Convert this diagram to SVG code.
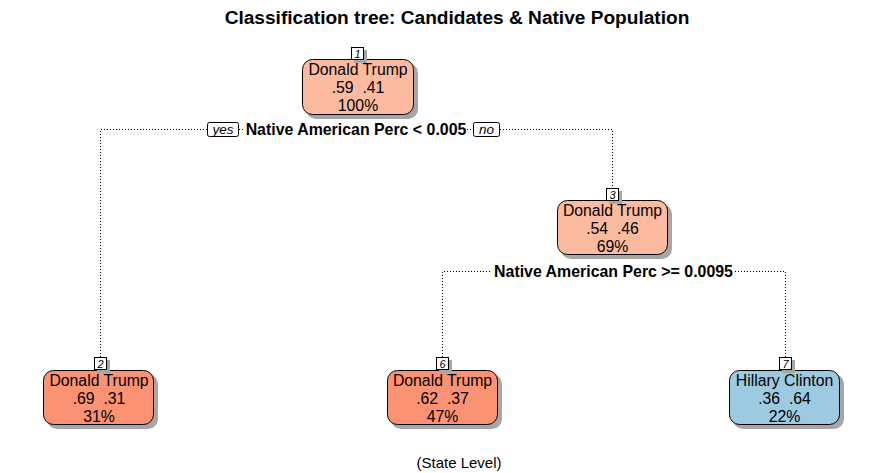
<svg xmlns="http://www.w3.org/2000/svg" width="883" height="473" viewBox="0 0 883 473">
<style>
text{font-family:"Liberation Sans",Arial,sans-serif;fill:#000;white-space:pre}
.title{font-size:19.1px;font-weight:bold}
.sub{font-size:15px}
.nt{font-size:15.8px}
.split{font-size:15.9px;font-weight:bold}
.yn{font-size:13.5px;font-style:italic}
.lab{font-size:11px;font-style:italic}
.box{stroke:#000;stroke-width:1}
.sh{fill:#a6a6a6}
.lb{fill:#fff;stroke:#000;stroke-width:1}
.dot{stroke:#000;stroke-width:1;stroke-dasharray:1 2;fill:none}
</style>
<rect width="883" height="473" fill="#fff"/>
<text class="title" x="457" y="24" text-anchor="middle">Classification tree: Candidates &amp; Native Population</text>
<g id="connectors">
<path class="dot" d="M100.5 357V129.5H207M239 129.5H244M467 129.5H473M500 129.5H612.5V188"/>
<path class="dot" d="M442.5 357V271.5H492M735 271.5H785.5V357"/>
</g>
<g id="split1">
<rect class="lb" x="207.5" y="122.5" width="31" height="14" rx="2"/>
<text class="yn" x="223" y="134" text-anchor="middle">yes</text>
<text class="split" x="356" y="135" text-anchor="middle">Native American Perc &lt; 0.005</text>
<rect class="lb" x="473.5" y="122.5" width="26" height="14" rx="2"/>
<text class="yn" x="486.5" y="134" text-anchor="middle">no</text>
</g>
<g id="split2">
<text class="split" x="613.5" y="277" text-anchor="middle">Native American Perc &gt;= 0.0095</text>
</g>
<g id="node1">
<rect class="sh" x="306" y="63" width="112" height="56" rx="10"/>
<rect class="box" x="302.5" y="59.5" width="111" height="55" rx="10" fill="#fcbba1"/>
<rect class="sh" x="354" y="50" width="13" height="13"/>
<rect class="lb" x="351.5" y="47.5" width="12" height="12"/>
<text class="lab" x="357.5" y="57.5" text-anchor="middle">1</text>
<text class="nt" x="358" y="75" text-anchor="middle">Donald Trump</text>
<text class="nt" x="358" y="93" text-anchor="middle">.59  .41</text>
<text class="nt" x="358" y="111" text-anchor="middle">100%</text>
</g>
<g id="node3">
<rect class="sh" x="561" y="204" width="111" height="55" rx="10"/>
<rect class="box" x="557.5" y="200.5" width="110" height="54" rx="10" fill="#fcbba1"/>
<rect class="sh" x="609" y="191" width="13" height="13"/>
<rect class="lb" x="606.5" y="188.5" width="12" height="12"/>
<text class="lab" x="612.5" y="198.5" text-anchor="middle">3</text>
<text class="nt" x="612.5" y="216" text-anchor="middle">Donald Trump</text>
<text class="nt" x="612.5" y="234" text-anchor="middle">.54  .46</text>
<text class="nt" x="612.5" y="252" text-anchor="middle">69%</text>
</g>
<g id="node2">
<rect class="sh" x="47" y="374" width="111" height="55" rx="10"/>
<rect class="box" x="43.5" y="370.5" width="110" height="54" rx="10" fill="#fb9273"/>
<rect class="sh" x="97" y="360" width="13" height="13"/>
<rect class="lb" x="94.5" y="357.5" width="12" height="12"/>
<text class="lab" x="100.5" y="367.5" text-anchor="middle">2</text>
<text class="nt" x="99" y="386" text-anchor="middle">Donald Trump</text>
<text class="nt" x="99" y="404" text-anchor="middle">.69  .31</text>
<text class="nt" x="99" y="422" text-anchor="middle">31%</text>
</g>
<g id="node6">
<rect class="sh" x="391" y="374" width="111" height="55" rx="10"/>
<rect class="box" x="387.5" y="370.5" width="110" height="54" rx="10" fill="#fb9273"/>
<rect class="sh" x="439" y="360" width="13" height="13"/>
<rect class="lb" x="436.5" y="357.5" width="12" height="12"/>
<text class="lab" x="442.5" y="367.5" text-anchor="middle">6</text>
<text class="nt" x="442.5" y="386" text-anchor="middle">Donald Trump</text>
<text class="nt" x="442.5" y="404" text-anchor="middle">.62  .37</text>
<text class="nt" x="442.5" y="422" text-anchor="middle">47%</text>
</g>
<g id="node7">
<rect class="sh" x="733" y="374" width="111" height="55" rx="10"/>
<rect class="box" x="729.5" y="370.5" width="110" height="54" rx="10" fill="#9ecae1"/>
<rect class="sh" x="782" y="360" width="13" height="13"/>
<rect class="lb" x="779.5" y="357.5" width="12" height="12"/>
<text class="lab" x="785.5" y="367.5" text-anchor="middle">7</text>
<text class="nt" x="784.5" y="386" text-anchor="middle">Hillary Clinton</text>
<text class="nt" x="784.5" y="404" text-anchor="middle">.36  .64</text>
<text class="nt" x="784.5" y="422" text-anchor="middle">22%</text>
</g>
<text class="sub" x="459" y="468" text-anchor="middle">(State Level)</text>
</svg>
